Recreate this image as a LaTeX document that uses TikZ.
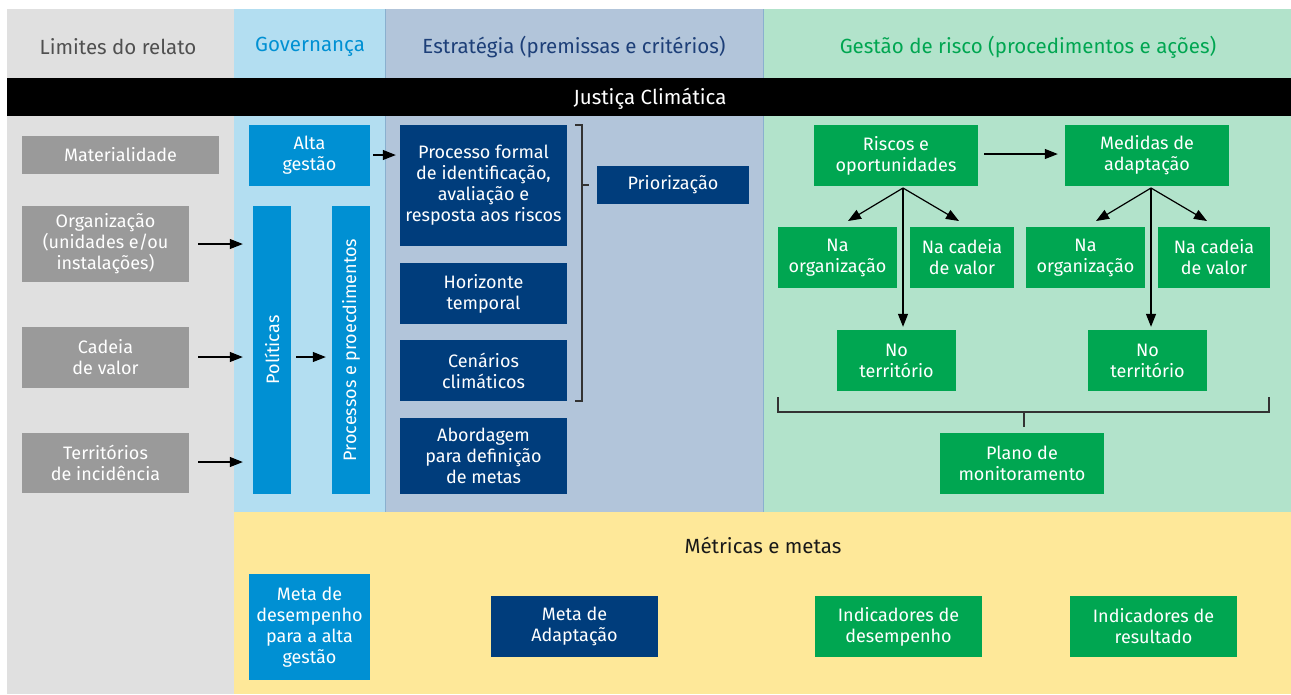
\documentclass[tikz,border=0pt]{standalone}
\usepackage{fontspec}
\setmainfont{Fira Sans}
\usetikzlibrary{arrows.meta}
\definecolor{bggray}{HTML}{E0E0E0}
\definecolor{bglblue}{HTML}{B3DEF1}
\definecolor{bgsteel}{HTML}{B2C5DA}
\definecolor{bggreen}{HTML}{B2E3CB}
\definecolor{bgyellow}{HTML}{FEE899}
\definecolor{cgray}{HTML}{9A9A9A}
\definecolor{cblue}{HTML}{0090D3}
\definecolor{cnavy}{HTML}{003D7C}
\definecolor{cgreen}{HTML}{00A651}
\definecolor{htgray}{HTML}{505050}
\definecolor{htnavy}{HTML}{1D3F78}
\definecolor{lineblue}{HTML}{8AB0CF}
\newcommand{\bx}[7]{\node[#6, minimum width={(#4-#2)*1pt}, minimum height={(#5-#3)*1pt}] (#1) at ({(#2+#4)/2},{(#3+#5)/2}) {#7};}
\tikzset{
  box/.style={inner sep=0pt, align=center, text=white, font=\fontsize{18}{21}\selectfont},
  graybox/.style={box, fill=cgray},
  bluebox/.style={box, fill=cblue},
  navybox/.style={box, fill=cnavy},
  greenbox/.style={box, fill=cgreen},
  head/.style={inner sep=0pt, font=\fontsize{20.5}{24}\selectfont},
  arr/.style={draw=black, line width=1.2pt, -{Triangle[length=13pt,width=10pt]}},
  brk/.style={draw=black!80, line width=1.4pt},
}
\begin{document}
\begin{tikzpicture}[x=1pt,y=-1pt]
\useasboundingbox (0,0) rectangle (1291,694);
% backgrounds
\fill[white] (0,0) rectangle (1291,694);
\fill[bggray] (7,9) rectangle (234,694);
\fill[bglblue] (234,9) rectangle (385,512);
\fill[bgsteel] (385,9) rectangle (763,512);
\fill[bggreen] (763,9) rectangle (1291,512);
\fill[bgyellow] (234,512) rectangle (1291,694);
\draw[lineblue, line width=0.8pt] (385,9) -- (385,512);
\draw[lineblue, line width=0.8pt] (763,9) -- (763,512);
% header
\node[head, text=htgray] (h1) at (118,47) {Limites do relato};
\node[head, text=cblue] (h2) at (310,47) {Governança};
\node[head, text=htnavy] (h3) at (574,47) {Estratégia (premissas e critérios)};
\node[head, text=cgreen] (h4) at (1028,47) {Gestão de risco (procedimentos e ações)};
\fill[black] (7,78) rectangle (1291,116);
\node[head, text=white] (jc) at (650,99) {Justiça Climática};
% gray column
\bx{mat}{22}{136}{219}{174}{graybox}{Materialidade}
\bx{org}{22}{206}{189}{282}{graybox}{Organização\\(unidades e/ou\\instalações)}
\bx{cad}{22}{327}{189}{388}{graybox}{Cadeia\\de valor}
\bx{ter}{22}{433}{189}{493}{graybox}{Territórios\\de incidência}
% governance
\bx{alta}{249}{125}{370}{186}{bluebox}{Alta\\gestão}
\bx{pol}{253}{206}{291}{494}{bluebox}{}
\bx{proc}{332}{206}{370}{494}{bluebox}{}
\node[box, rotate=90] (polt) at (pol.center) {Políticas};
\node[box, rotate=90] (proct) at (proc.center) {Processos e proecdimentos};
% strategy
\bx{pf}{400}{125}{567}{246}{navybox}{Processo formal\\de identificação,\\avaliação e\\resposta aos riscos}
\bx{hor}{400}{263}{567}{324}{navybox}{Horizonte\\temporal}
\bx{cen}{400}{340}{567}{401}{navybox}{Cenários\\climáticos}
\bx{abo}{400}{418}{567}{494}{navybox}{Abordagem\\para definição\\de metas}
\bx{pri}{597}{166}{749}{204}{navybox}{Priorização}
\coordinate (b1) at (575,125);
\coordinate (b2) at (582,125);
\coordinate (b3) at (582,401);
\coordinate (b4) at (575,401);
\coordinate (b5) at (582,185);
\coordinate (b6) at (589,185);
\draw[brk] (b1) -- (b2) -- (b3) -- (b4);
\draw[brk] (b5) -- (b6);
% risk management
\bx{ris}{814}{125}{978}{186}{greenbox}{Riscos e\\oportunidades}
\bx{med}{1065}{125}{1229}{186}{greenbox}{Medidas de\\adaptação}
\bx{no1}{778}{227}{897}{288}{greenbox}{Na\\organização}
\bx{nc1}{910}{227}{1014}{288}{greenbox}{Na cadeia\\de valor}
\bx{nt1}{837}{330}{956}{391}{greenbox}{No\\território}
\bx{no2}{1026}{227}{1145}{288}{greenbox}{Na\\organização}
\bx{nc2}{1158}{227}{1270}{288}{greenbox}{Na cadeia\\de valor}
\bx{nt2}{1088}{330}{1207}{391}{greenbox}{No\\território}
\bx{plano}{940}{433}{1104}{494}{greenbox}{Plano de\\monitoramento}
\coordinate (o1) at (903,188);
\coordinate (o2) at (1151,188);
\coordinate (e11) at (848,221);
\coordinate (e12) at (959,221);
\coordinate (e21) at (1096,221);
\coordinate (e22) at (1207,221);
\draw[arr] (o1) -- (e11);
\draw[arr] (o1) -- (e12);
\draw[arr] (o1) -- ([yshift=3pt]nt1.north -| o1);
\draw[arr] (o2) -- (e21);
\draw[arr] (o2) -- (e22);
\draw[arr] (o2) -- ([yshift=3pt]nt2.north -| o2);
\coordinate (g1) at (778,397);
\coordinate (g2) at (778,412);
\coordinate (g3) at (1269,412);
\coordinate (g4) at (1269,397);
\coordinate (g5) at (1024,412);
\coordinate (g6) at (1024,427);
\draw[brk] (g1) -- (g2) -- (g3) -- (g4);
\draw[brk] (g5) -- (g6);
% arrows
\draw[arr] ([xshift=9pt]org.east) -- ([xshift=-10pt]pol.west |- org.east);
\draw[arr] ([xshift=9pt]cad.east |- 0,357) -- ([xshift=-10pt]pol.west |- 0,357);
\draw[arr] ([xshift=9pt]ter.east |- 0,462) -- ([xshift=-10pt]pol.west |- 0,462);
\draw[arr] ([xshift=5pt]pol.east |- 0,357) -- ([xshift=-6pt]proc.west |- 0,357);
\draw[arr] ([xshift=3pt]alta.east |- 0,155) -- ([xshift=-4pt]pf.west |- 0,155);
\draw[arr] ([xshift=6pt]ris.east |- 0,154) -- ([xshift=-7pt]med.west |- 0,154);
% metrics
\node[head, text=black!90] (mm) at (763,545) {Métricas e metas};
\bx{m1}{249}{574}{370}{680}{bluebox}{Meta de\\desempenho\\para a alta\\gestão}
\bx{m2}{491}{596}{658}{657}{navybox}{Meta de\\Adaptação}
\bx{m3}{815}{596}{982}{657}{greenbox}{Indicadores de\\desempenho}
\bx{m4}{1070}{596}{1237}{657}{greenbox}{Indicadores de\\resultado}
\end{tikzpicture}
\end{document}
